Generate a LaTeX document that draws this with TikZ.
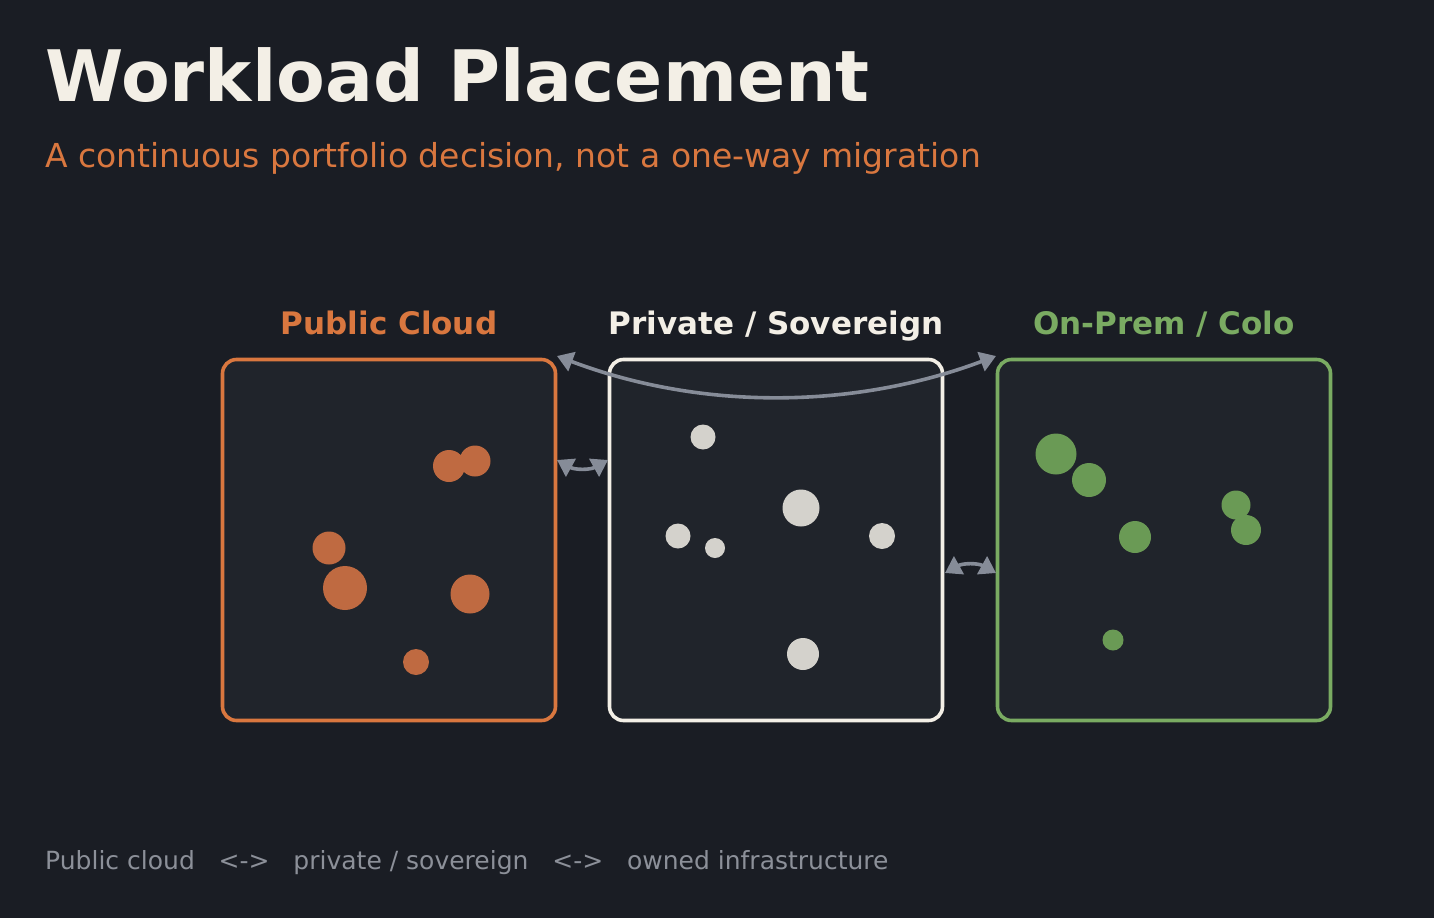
\documentclass[tikz,border=0pt]{standalone}
\usepackage{fontspec}
\setmainfont{DejaVu Sans}
\usetikzlibrary{arrows.meta}
\definecolor{bg}{HTML}{1A1D24}
\definecolor{boxbg}{HTML}{20242B}
\definecolor{orng}{HTML}{D9773F}
\definecolor{orc}{HTML}{BF6A41}
\definecolor{grn}{HTML}{7AAB62}
\definecolor{grc}{HTML}{6A9A55}
\definecolor{wht}{HTML}{F3EFE6}
\definecolor{whc}{HTML}{D4D2CC}
\definecolor{gry}{HTML}{868C98}
\definecolor{ftr}{HTML}{8C9099}
\begin{document}
\begin{tikzpicture}[x=1pt,y=-1pt,
  panel/.style={draw,line width=3.6pt,fill=boxbg,rounded corners=14pt},
  lab/.style={font=\bfseries\fontsize{31}{36}\selectfont,anchor=base},
  dot/.style={circle,inner sep=0pt,minimum size=#1},
  link/.style={gry,line width=3.6pt,{Triangle[length=16pt,width=20pt]}-{Triangle[length=16pt,width=20pt]}}]
\useasboundingbox[fill=bg] (0,0) rectangle (1434,918);
\node[anchor=base west,inner sep=0pt,text=wht,font=\bfseries\fontsize{71}{80}\selectfont] (title) at (45,101) {Workload Placement};
\node[anchor=base west,inner sep=0pt,text=orng,font=\fontsize{33}{38}\selectfont] (sub) at (45,167) {A continuous portfolio decision, not a one-way migration};
\node[panel,draw=orng,minimum width=333pt,minimum height=361pt] (pub) at (389,540) {};
\node[panel,draw=wht,minimum width=333pt,minimum height=361pt] (pri) at (776,540) {};
\node[panel,draw=grn,minimum width=333pt,minimum height=361pt] (onp) at (1164,540) {};
\node[lab,text=orng] (lpub) at (389,334) {Public Cloud};
\node[lab,text=wht] (lpri) at (776,334) {Private / Sovereign};
\node[lab,text=grn] (lonp) at (1164,334) {On-Prem / Colo};
% dots
\foreach \x/\y/\d [count=\i] in {449/466/32,475/461/31,329/548/33,345/588/44,470/594/39,416/662/26}
  \node[dot=\d pt,fill=orc] (o\i) at (\x,\y) {};
\foreach \x/\y/\d [count=\i] in {703/437/25,801/508/37,678/536/25,715/548/20,882/536/26,803/654/32}
  \node[dot=\d pt,fill=whc] (w\i) at (\x,\y) {};
\foreach \x/\y/\d [count=\i] in {1056/454/41,1089/480/34,1236/505/29,1246/530/30,1135/537/32,1113/640/21}
  \node[dot=\d pt,fill=grc] (g\i) at (\x,\y) {};
% links
\coordinate (a1) at (557,356); \coordinate (a2) at (996,356);
\draw[link] (a1) .. controls (700,410) and (852,410) .. (a2);
\coordinate (b1) at (557,460); \coordinate (b2) at (608,460);
\draw[link] (b1) .. controls (575,470) and (590,470) .. (b2);
\coordinate (c1) at (945,573); \coordinate (c2) at (996,573);
\draw[link] (c1) .. controls (963,563) and (978,563) .. (c2);
\node[anchor=base west,inner sep=0pt,text=ftr,font=\fontsize{25}{30}\selectfont] (foot) at (45,869) {Public cloud\ \ \ <->\ \ \ private / sovereign\ \ \ <->\ \ \ owned infrastructure};
\end{tikzpicture}
\end{document}
